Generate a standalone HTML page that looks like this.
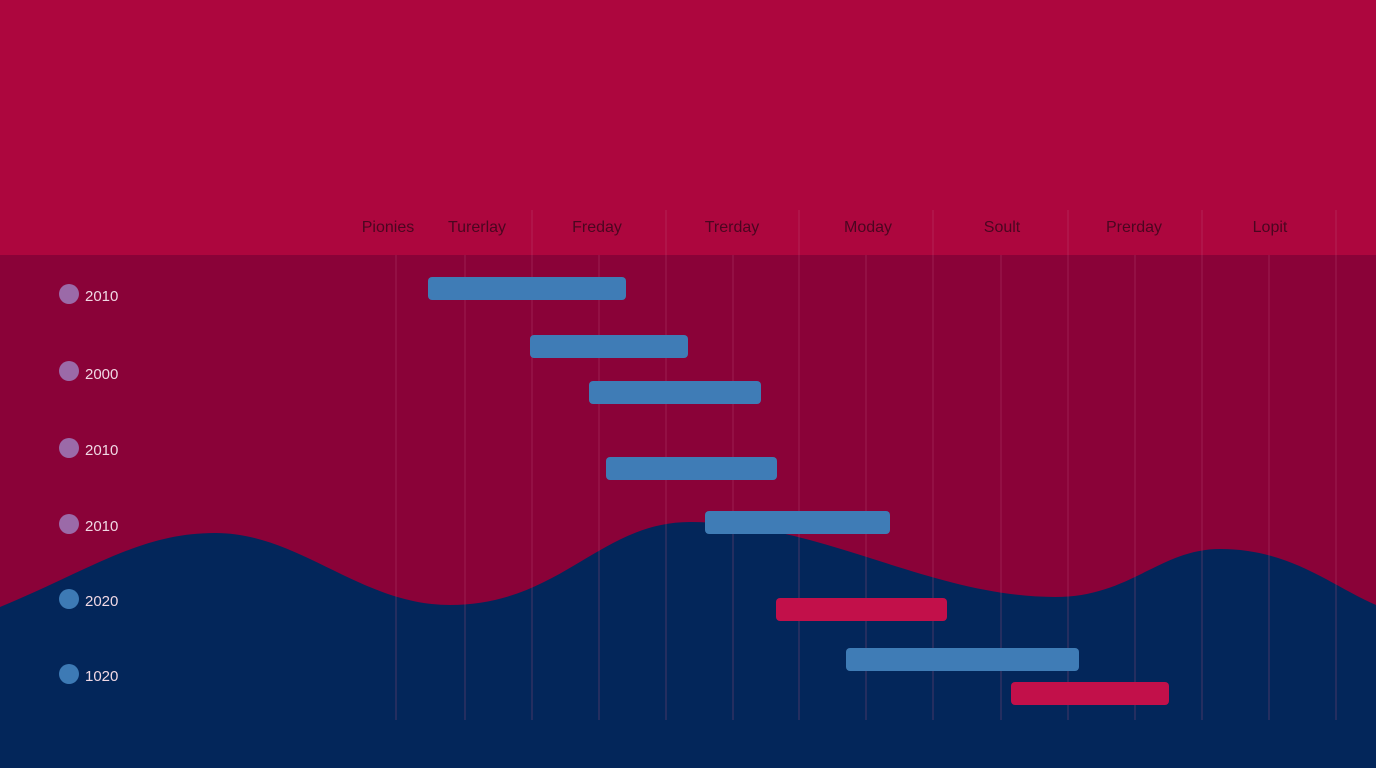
<!DOCTYPE html>
<html><head><style>
html,body{margin:0;width:1376px;height:768px;overflow:hidden;background:#03265a;font-family:"Liberation Sans",sans-serif}
svg{display:block}
</style></head><body>
<svg width="1376" height="768" xmlns="http://www.w3.org/2000/svg">
<rect x="0" y="0" width="1376" height="255" fill="#ad063e"/>
<rect x="0" y="255" width="1376" height="513" fill="#8a0238"/>
<path d="M0,607 C90,570 140,533 215,533 C300,533 360,605 450,605 C560,605 600,522 690,522 C820,522 930,597 1055,597 C1130,597 1160,549 1220,549 C1290,549 1330,585 1376,605 L1376,768 L0,768 Z" fill="#03265a"/>
<g stroke="#c0557f" stroke-width="1" opacity="0.35">
<line x1="396" y1="255" x2="396" y2="720"/><line x1="465" y1="255" x2="465" y2="720"/>
<line x1="532" y1="210" x2="532" y2="720"/><line x1="599" y1="255" x2="599" y2="720"/>
<line x1="666" y1="210" x2="666" y2="720"/><line x1="733" y1="255" x2="733" y2="720"/>
<line x1="799" y1="210" x2="799" y2="720"/><line x1="866" y1="255" x2="866" y2="720"/>
<line x1="933" y1="210" x2="933" y2="720"/><line x1="1001" y1="255" x2="1001" y2="720"/>
<line x1="1068" y1="210" x2="1068" y2="720"/><line x1="1135" y1="255" x2="1135" y2="720"/>
<line x1="1202" y1="210" x2="1202" y2="720"/><line x1="1269" y1="255" x2="1269" y2="720"/>
<line x1="1336" y1="210" x2="1336" y2="720"/>
</g>
<g font-size="16" fill="#4a0620" text-anchor="middle">
<text x="388" y="232">Pionies</text><text x="477" y="232">Turerlay</text>
<text x="597" y="232">Freday</text><text x="732" y="232">Trerday</text>
<text x="868" y="232">Moday</text><text x="1002" y="232">Soult</text>
<text x="1134" y="232">Prerday</text><text x="1270" y="232">Lopit</text>
</g>
<g font-size="15" fill="#f0d8e4">
<circle cx="69" cy="294" r="10" fill="#9b6aa8"/><text x="85" y="301">2010</text>
<circle cx="69" cy="371" r="10" fill="#9b6aa8"/><text x="85" y="379">2000</text>
<circle cx="69" cy="448" r="10" fill="#9b6aa8"/><text x="85" y="455">2010</text>
<circle cx="69" cy="524" r="10" fill="#9b6aa8"/><text x="85" y="531">2010</text>
<circle cx="69" cy="599" r="10" fill="#3d7ab5"/><text x="85" y="606">2020</text>
<circle cx="69" cy="674" r="10" fill="#3d7ab5"/><text x="85" y="681">1020</text>
</g>
<g fill="#3f7cb6">
<rect x="428" y="277" width="198" height="23" rx="4"/>
<rect x="530" y="335" width="158" height="23" rx="4"/>
<rect x="589" y="381" width="172" height="23" rx="4"/>
<rect x="606" y="457" width="171" height="23" rx="4"/>
<rect x="705" y="511" width="185" height="23" rx="4"/>
<rect x="846" y="648" width="233" height="23" rx="4"/>
</g>
<g fill="#c2104a">
<rect x="776" y="598" width="171" height="23" rx="4"/>
<rect x="1011" y="682" width="158" height="23" rx="4"/>
</g>
</svg>
</body></html>
